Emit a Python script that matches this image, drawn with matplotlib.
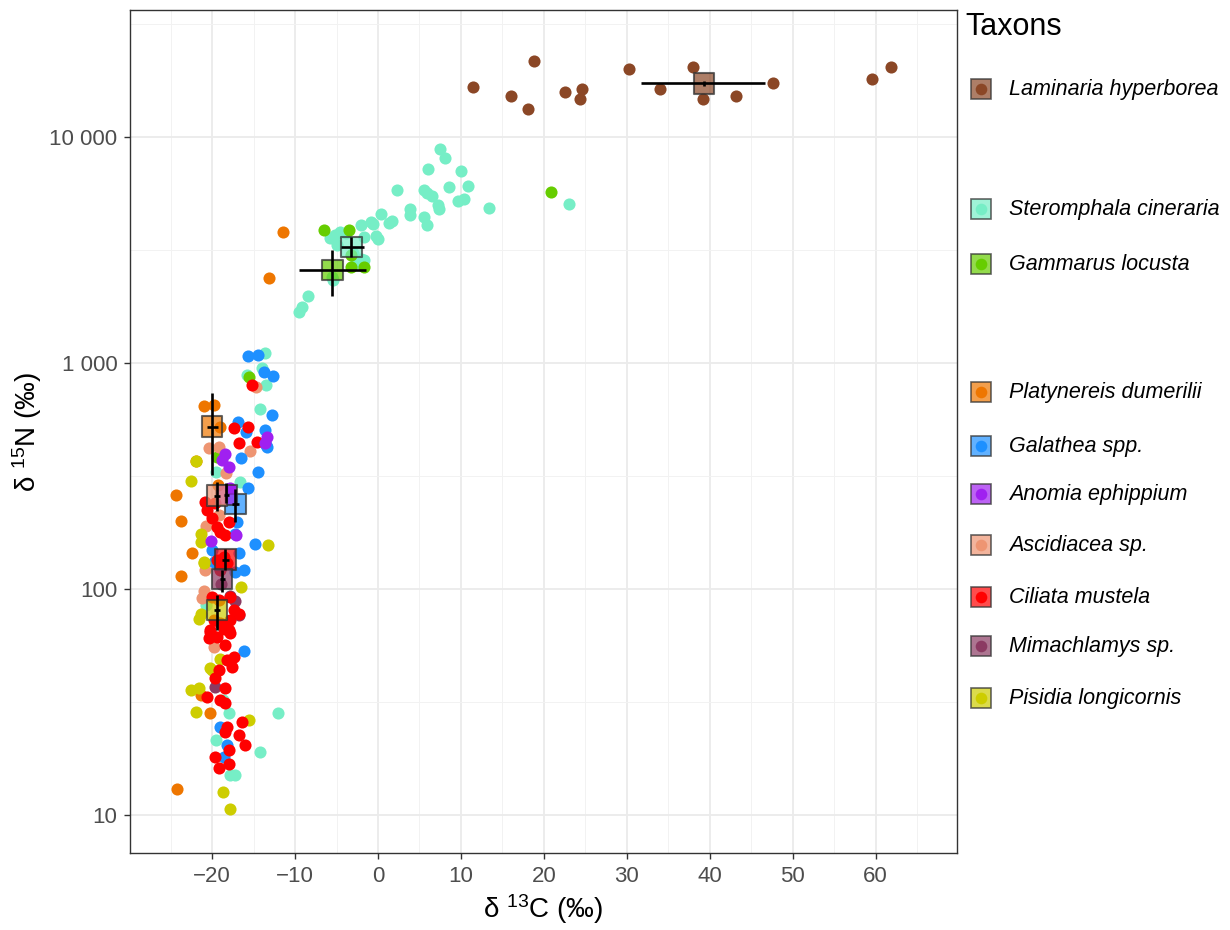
import matplotlib
matplotlib.use("Agg")
import matplotlib.pyplot as plt
from matplotlib.patches import Rectangle
from matplotlib.ticker import FixedLocator, FuncFormatter

plt.rcParams['font.family'] = ['Liberation Sans', 'DejaVu Sans']
plt.rcParams['mathtext.fontset'] = 'custom'
plt.rcParams['mathtext.rm'] = 'Liberation Sans'
plt.rcParams['mathtext.it'] = 'Liberation Sans:italic'

# Données : delta 13C (x) et delta 15N (y) par taxon
lam_x = [11.4, 16.0, 18.1, 18.8, 22.6, 24.4, 24.6, 30.2, 34.0, 38.0, 39.2, 43.2, 47.6, 59.6, 61.8]
lam_y = [16700, 15200, 13300, 21700, 15800, 14700, 16400, 20000, 16400, 20400, 14700, 15200, 17400, 18100, 20400]

ste_x = [7.5, 8.1, 6.0, 10.0, 8.6, 10.9, 5.5, 5.9, 6.5, 7.2, 7.3, 9.7, 10.4, 13.4, 3.8, 3.9,
         5.5, 5.9, 2.3, 23.0, 0.4, -0.8, -0.6, 1.3, 1.7, -2.0, -0.2, 0.0, -1.7, -4.6, -5.4,
         -5.0, -2.0, -1.7, -2.6, -3.0, -5.4, -8.4, -9.2, -9.5, -3.8, -5.2, -5.8, -5.6,
         -13.6, -14.0, -15.8, -13.5, -14.2, -16.6, -20.7, -18.7, -18.0, -12.1, -19.5, -14.2,
         -17.8, -17.2, -19.5]
ste_y = [8830, 8050, 7200, 7080, 6030, 6090, 5820, 5670, 5480, 5000, 4800, 5220, 5300, 4850, 4830, 4530,
         4420, 4080, 5810, 5060, 4550, 4200, 4120, 4160, 4270, 4090, 3650, 3550, 3620, 3810, 3570,
         3330, 2900, 2860, 2760, 3060, 2330, 1990, 1770, 1680, 3750, 3680, 3570, 2410,
         1114, 953, 885, 800, 624, 298, 85, 32.3, 28.2, 28.2, 21.4, 19.1,
         15.0, 15.0, 330]

gam_x = [-6.5, -3.5, -3.2, -3.2, -1.7, 20.8, -15.6, -19.4]
gam_y = [3870, 3900, 3000, 2670, 2670, 5730, 869, 384]

pla_x = [-11.4, -13.1, -21.0, -19.8, -19.1, -21.9, -24.3, -23.8, -22.4, -23.7, -24.2, -21.4, -20.2, -19.3]
pla_y = [3800, 2380, 646, 650, 523, 370, 262, 200, 144, 114, 13.1, 34, 28.3, 290]

gal_x = [-15.7, -14.5, -13.8, -12.7, -12.8, -16.9, -15.9, -13.6, -13.5, -16.5, -14.5, -13.4, -15.7,
         -17.2, -14.8, -16.2, -17.0, -19.0, -18.2, -18.6, -20.0, -19.8, -17.2, -16.8, -16.2]
gal_y = [1075, 1091, 914, 875, 589, 550, 497, 506, 434, 379, 330, 426, 279,
         176, 158, 53, 199, 24.6, 20.4, 18.1, 149, 132, 119, 144, 121]

ano_x = [-18.4, -18.8, -18.0, -13.4, -13.6, -20.1, -17.1, -17.8]
ano_y = [398, 372, 348, 473, 442, 164, 173, 279]

asc_x = [-14.7, -20.4, -19.2, -15.4, -18.3, -20.7, -19.2, -20.9, -21.0, -21.2, -19.8]
asc_y = [785, 419, 426, 408, 325, 190, 212, 122, 98, 91, 55.6]

cil_x = [-17.4, -15.7, -16.7, -14.6, -15.2, -20.8, -20.6, -20.0, -19.4, -19.0, -18.4, -18.0, -19.6,
         -19.4, -18.6, -18.2, -19.1, -20.0, -19.2, -17.8, -17.4, -16.8, -17.8, -19.8, -20.2, -19.4,
         -18.4, -18.0, -19.0, -20.2, -18.6, -17.8, -20.4, -18.2, -17.4, -17.6, -19.2, -19.6, -18.4,
         -20.6, -19.0, -18.4, -16.4, -18.2, -18.4, -16.8, -19.6, -18.0, -19.2, -16.0, -18.0]
cil_y = [515, 520, 445, 449, 800, 243, 224, 206, 189, 179, 174, 199, 240,
         135, 139, 130, 121, 92.5, 89.3, 92.5, 80.7, 78.0, 72.9, 72.9, 64.7, 61.5,
         56.5, 65.9, 70.5, 65.9, 66.4, 63.7, 60.5, 48.5, 50.2, 45.3, 43.8, 40.3, 36.4,
         33.4, 32.3, 31.2, 25.9, 24.6, 23.4, 22.6, 18.1, 16.9, 16.1, 20.4, 19.4]

mim_x = [-19.6, -17.2, -16.8, -18.9, -17.9]
mim_y = [37, 89, 77, 105, 93]

pis_x = [-22.5, -22.0, -21.4, -13.3, -21.0, -16.5, -21.4, -21.6, -20.2, -20.0, -22.5, -21.6, -21.9,
         -15.6, -18.7, -17.8, -19.0, -21.4, -21.0]
pis_y = [301, 370, 161, 156, 131, 102, 78, 74, 45, 44, 35.7, 36.4, 28.7,
         26.3, 12.7, 10.7, 49, 176, 132]

# Moyennes et barres d'erreur (ordre = taxons)
taxons = ["Laminaria hyperborea", "Steromphala cineraria", "Gammarus locusta",
          "Platynereis dumerilii", "Galathea spp.", "Anomia ephippium",
          "Ascidiacea sp.", "Ciliata mustela", "Mimachlamys sp.", "Pisidia longicornis"]
colors = ["#8B4726", "#76EEC6", "#66CD00", "#EE7600", "#1E90FF", "#A020F0",
          "#EE9572", "#FF0000", "#8B3A62", "#CDCD00"]
mean_x = [39.3, -3.2, -5.5, -20.0, -17.2, -18.3, -19.4, -18.4, -18.8, -19.4]
mean_y = [17300, 3270, 2580, 523, 238, 261, 259, 135, 111, 81]
x_lo = [31.7, -4.5, -9.5, -20.6, -17.6, -18.6, -19.8, -18.8, -19.1, -19.8]
x_hi = [46.7, -1.7, -1.5, -19.3, -16.8, -18.0, -19.0, -18.0, -18.5, -19.0]
y_lo = [16870, 2960, 1990, 319, 199, 240, 222, 121, 97, 66]
y_hi = [17740, 3620, 3160, 736, 276, 294, 299, 151, 121, 94]

points = [(lam_x, lam_y), (ste_x, ste_y), (gam_x, gam_y), (pla_x, pla_y), (gal_x, gal_y),
          (ano_x, ano_y), (asc_x, asc_y), (cil_x, cil_y), (mim_x, mim_y), (pis_x, pis_y)]
draw_order = [0, 1, 2, 3, 6, 4, 9, 8, 7, 5]

fig = plt.figure(figsize=(12.3, 9.3), dpi=100)
ax = fig.add_axes([130 / 1230, 1 - 853 / 930, 827 / 1230, 843 / 930])

for i in draw_order:
    px, py = points[i]
    ax.scatter(px, py, s=76, color=colors[i], linewidths=0, zorder=3)

for i in range(len(taxons)):
    ax.scatter(mean_x[i], mean_y[i], s=220, marker="s", color=colors[i], alpha=0.7,
               edgecolors="none", zorder=4)
    ax.scatter(mean_x[i], mean_y[i], s=220, marker="s", facecolors="none",
               edgecolors=(0.2, 0.2, 0.2, 0.75), linewidths=1.5, zorder=4)

xerr = [[m - lo for m, lo in zip(mean_x, x_lo)], [hi - m for m, hi in zip(mean_x, x_hi)]]
yerr = [[m - lo for m, lo in zip(mean_y, y_lo)], [hi - m for m, hi in zip(mean_y, y_hi)]]
ax.errorbar(mean_x, mean_y, xerr=xerr, yerr=yerr, fmt="none", ecolor="black",
            elinewidth=1.9, capsize=0, zorder=5)

ax.set_yscale("log")
ax.set_xlim(-29.9, 69.8)
ax.set_ylim(6.8, 36500)

ax.xaxis.set_major_locator(FixedLocator([-20, -10, 0, 10, 20, 30, 40, 50, 60]))
ax.xaxis.set_minor_locator(FixedLocator([-25, -15, -5, 5, 15, 25, 35, 45, 55, 65]))
ax.yaxis.set_major_locator(FixedLocator([10, 100, 1000, 10000]))
ax.yaxis.set_minor_locator(FixedLocator([10 ** 1.5, 10 ** 2.5, 10 ** 3.5, 10 ** 4.5]))
ax.xaxis.set_major_formatter(FuncFormatter(lambda v, p: f"{v:.0f}".replace("-", "\u2212")))
ax.yaxis.set_major_formatter(FuncFormatter(lambda v, p: f"{v:,.0f}".replace(",", " ")))
ax.yaxis.set_minor_formatter(FuncFormatter(lambda v, p: ""))

ax.grid(True, which="major", color="#EBEBEB", linewidth=1.3, zorder=0)
ax.grid(True, which="minor", color="#F2F2F2", linewidth=0.7, zorder=0)
ax.set_axisbelow(True)
ax.tick_params(which="major", length=4, width=1, color="#333333", labelsize=16,
               labelcolor="#4D4D4D", pad=5)
ax.tick_params(which="minor", length=0)
for s in ax.spines.values():
    s.set_color("#333333")
    s.set_linewidth(1.0)

ax.set_xlabel("δ $^{13}$C (‰)", fontsize=20, labelpad=4)
ax.set_ylabel("δ $^{15}$N (‰)", fontsize=20, labelpad=4)

# Légende manuelle (avec les trous du graphique original)
lax = fig.add_axes([0, 0, 1, 1])
lax.set_xlim(0, 1230)
lax.set_ylim(930, 0)
lax.axis("off")
lax.text(965, 27, "Taxons", fontsize=22, va="center", ha="left")
leg_y = [89, 209, 264, 392, 446, 494, 545, 597, 646, 698]
for i, name in enumerate(taxons):
    lax.add_patch(Rectangle((971, leg_y[i] - 10), 20, 20, facecolor=colors[i], alpha=0.7,
                            edgecolor="none"))
    lax.add_patch(Rectangle((971, leg_y[i] - 10), 20, 20, facecolor="none",
                            edgecolor=(0.2, 0.2, 0.2, 0.75), linewidth=1.2))
    lax.scatter(981, leg_y[i], s=70, color=colors[i], linewidths=0)
    lax.text(1009, leg_y[i], name, fontsize=15.5, style="italic", va="center", ha="left")

fig.savefig("out.png", dpi=100)
